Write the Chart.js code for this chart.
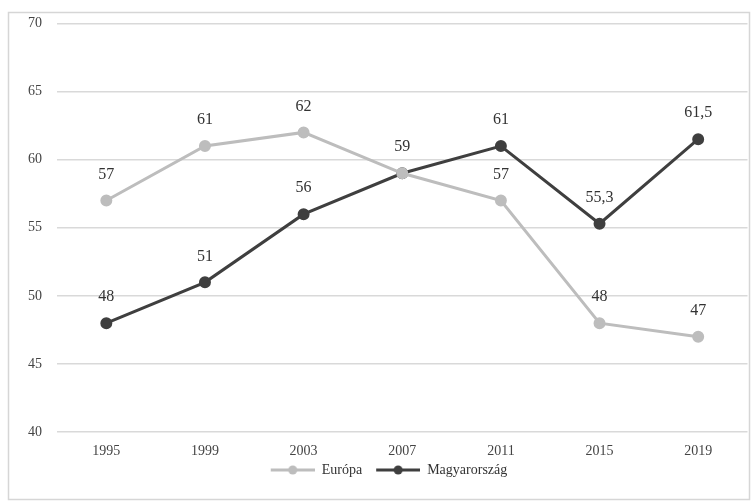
<!DOCTYPE html>
<html>
<head>
<meta charset="utf-8">
<script src="https://cdn.jsdelivr.net/npm/chart.js@4"></script>
<style>
  html, body { margin: 0; padding: 0; background: #fff; }
  #wrap { width: 755px; height: 502px; }
</style>
</head>
<body>
<div id="wrap"><canvas id="mainChart" width="755" height="502"></canvas></div>
<script>
// data
const years = ["1995", "1999", "2003", "2007", "2011", "2015", "2019"];
const europa = [57, 61, 62, 59, 57, 48, 47];
const magyarorszag = [48, 51, 56, 59, 61, 55.3, 61.5];
const yTicks = [40, 45, 50, 55, 60, 65, 70];

const FONT = "'Liberation Serif', 'Times New Roman', serif";

// legend marker: line with a dot in the middle (blank gap on the left)
function legendMarker(color) {
  const c = document.createElement("canvas");
  c.width = 58; c.height = 10;
  const g = c.getContext("2d");
  g.strokeStyle = color;
  g.lineWidth = 3;
  g.beginPath(); g.moveTo(14, 5); g.lineTo(58, 5); g.stroke();
  g.fillStyle = color;
  g.beginPath(); g.arc(36, 5, 4.5, 0, Math.PI * 2); g.fill();
  return c;
}

// light frame around the whole figure
const framePlugin = {
  id: "frame",
  beforeDraw(chart) {
    const ctx = chart.ctx;
    ctx.save();
    ctx.strokeStyle = "#d6d6d6";
    ctx.lineWidth = 1.5;
    ctx.strokeRect(8.5, 12.5, 741, 487);
    ctx.restore();
  }
};

// value labels above points (hu decimal comma)
const valueLabels = {
  id: "valueLabels",
  afterDatasetsDraw(chart) {
    const ctx = chart.ctx;
    ctx.save();
    ctx.font = "16px " + FONT;
    ctx.fillStyle = "#333";
    ctx.textAlign = "center";
    ctx.textBaseline = "middle";
    chart.data.datasets.forEach((ds, i) => {
      const meta = chart.getDatasetMeta(i);
      meta.data.forEach((pt, j) => {
        // same value on both lines -> only one label
        if (i === 0 && ds.data[j] === chart.data.datasets[1].data[j]) return;
        const txt = String(ds.data[j]).replace(".", ",");
        ctx.fillText(txt, pt.x, pt.y - 26);
      });
    });
    ctx.restore();
  }
};

const ctx = document.getElementById("mainChart").getContext("2d");
new Chart(ctx, {
  type: "line",
  data: {
    labels: years,
    datasets: [
      {
        label: "Európa",
        data: europa,
        borderColor: "#bdbdbd",
        backgroundColor: "#bdbdbd",
        borderWidth: 3,
        pointRadius: 4.5,
        fill: false,
        tension: 0
      },
      {
        label: "Magyarország",
        data: magyarorszag,
        borderColor: "#3f3f3f",
        backgroundColor: "#3f3f3f",
        borderWidth: 3,
        pointRadius: 4.5,
        fill: false,
        tension: 0
      }
    ]
  },
  options: {
    responsive: false,
    animation: false,
    layout: { padding: { left: 12, right: 3, top: 14, bottom: 15 } },
    plugins: {
      legend: {
        position: "bottom",
        labels: {
          usePointStyle: true,
          pointStyleWidth: 58,
          padding: 0,
          font: { size: 14, family: FONT },
          color: "#333",
          generateLabels(chart) {
            return chart.data.datasets.map((ds, i) => ({
              text: ds.label,
              pointStyle: legendMarker(ds.borderColor),
              strokeStyle: "transparent",
              fillStyle: ds.borderColor,
              lineWidth: 0,
              datasetIndex: i,
              fontColor: "#333"
            }));
          }
        }
      },
      tooltip: { enabled: false }
    },
    scales: {
      x: {
        offset: true,
        grid: { display: false },
        border: { display: false },
        ticks: {
          padding: 3,
          font: { size: 14, family: FONT },
          color: "#444"
        }
      },
      y: {
        min: 40,
        max: 70,
        afterFit(scale) { scale.width = 45; },
        afterBuildTicks(scale) { scale.ticks = yTicks.map(v => ({ value: v })); },
        grid: { color: "#d9d9d9", lineWidth: 1.5, drawTicks: false },
        border: { display: false },
        ticks: {
          padding: 15,
          font: { size: 14, family: FONT },
          color: "#444"
        }
      }
    }
  },
  plugins: [framePlugin, valueLabels]
});
</script>
</body>
</html>
